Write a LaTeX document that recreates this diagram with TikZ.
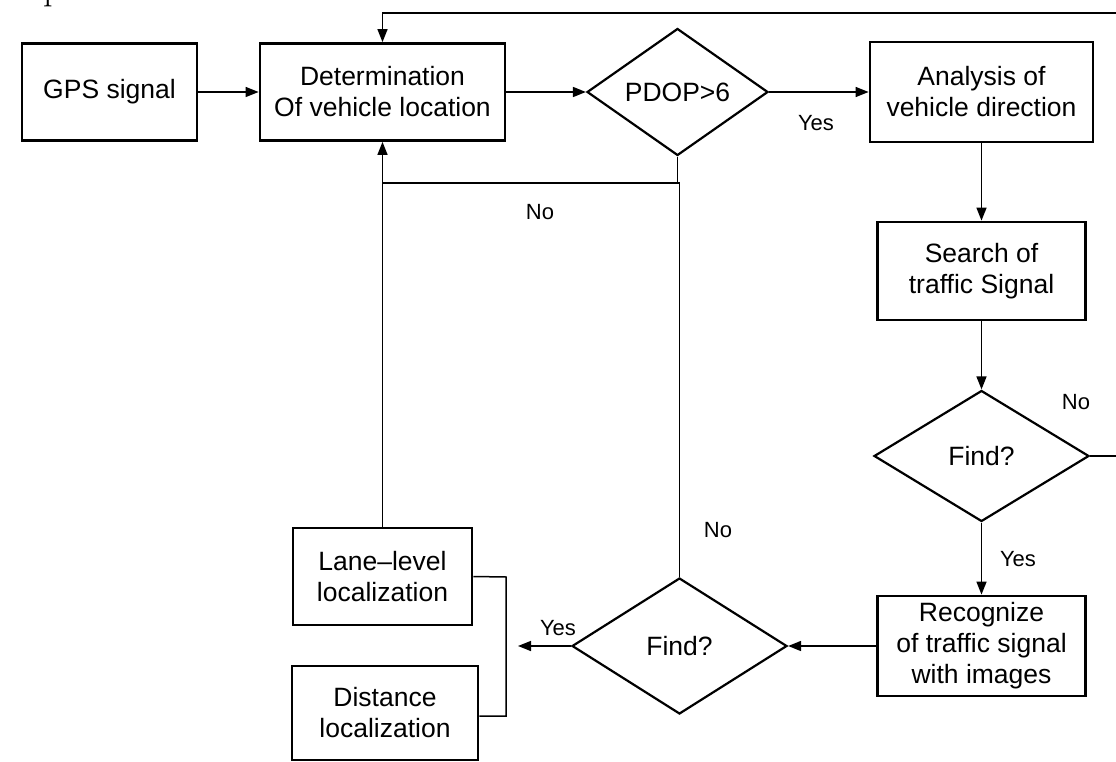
\documentclass[tikz,border=0pt]{standalone}
\usepackage{fontspec}
\newfontfamily\lib{Liberation Sans}
\usetikzlibrary{shapes.geometric,arrows.meta}
\tikzset{
  boxnode/.style={draw, line width=2.8pt, rectangle, inner sep=0pt, align=center,
    font=\lib\fontsize{26.5}{31}\selectfont},
  decnode/.style={draw, line width=2.2pt, diamond, inner sep=0pt, align=center,
    font=\lib\fontsize{26.5}{31}\selectfont},
  conn/.style={line width=1.5pt},
  arr/.style={conn, -{Triangle[length=13pt,width=10pt]}},
  lbl/.style={font=\lib\fontsize{22}{25}\selectfont, inner sep=0pt}
}
\begin{document}
\begin{tikzpicture}[x=1pt,y=-1pt]
\useasboundingbox (0,0) rectangle (1116,762);
\clip (0,0) rectangle (1116,762);
\node[anchor=base west, inner sep=0pt, font=\fontsize{38}{40}\selectfont] (cap) at (43,0) {p};
% nodes
\node[boxnode, minimum width=175pt, minimum height=97pt] (gps) at (109.5,92) {GPS signal};
\node[boxnode, minimum width=245pt, minimum height=97pt] (det) at (382.5,92) {Determination\\Of vehicle location};
\node[decnode, minimum width=181pt, minimum height=127pt] (pdop) at (677.5,92) {PDOP>6};
\node[boxnode, minimum width=223pt, minimum height=100pt] (ana) at (981.5,92) {Analysis of\\vehicle direction};
\node[boxnode, minimum width=208pt, minimum height=98pt] (srch) at (981.5,271) {Search of\\traffic Signal};
\node[decnode, minimum width=215pt, minimum height=131pt] (find1) at (981.5,456) {Find?};
\node[boxnode, minimum width=208pt, minimum height=100pt] (rec) at (981.5,646) {Recognize\\of traffic signal\\with images};
\node[decnode, minimum width=215pt, minimum height=136pt] (find2) at (679.5,646) {Find?};
\node[boxnode, minimum width=179pt, minimum height=97pt] (lane) at (382.5,576.5) {Lane–level\\localization};
\node[boxnode, minimum width=186pt, minimum height=94pt] (dist) at (385,713) {Distance\\localization};
% coordinates
\coordinate (topR) at (1120,13);
\coordinate (find1R) at (1120,456);
\coordinate (noJ) at (678,183);
\coordinate (yesEnd) at (518,646);
\coordinate (brk) at (506,577);
% connectors
\draw[arr] (gps.east) -- (det.west);
\draw[arr] (det.east) -- (pdop.west);
\draw[arr] (pdop.east) -- (ana.west);
\draw[arr] (topR) -- (topR -| det.north) -- (det.north);
\draw[conn] (find1.east) -- (find1R);
\draw[arr] (ana.south) -- (srch.north);
\draw[arr] (srch.south) -- (find1.north);
\draw[arr] (find1.south) -- (rec.north);
\draw[arr] (rec.west) -- (find2.east);
\draw[arr] (find2.west) -- (yesEnd);
\draw[conn] (find2.north) -- (find2.north |- noJ) -- (noJ -| det.south);
\draw[conn] (pdop.south) -- (pdop.south |- noJ);
\draw[arr] (lane.north) -- (det.south);
\draw[conn] (lane.east) -- (brk) -- (brk |- 0,716) -- (dist.east |- 0,716);
% labels
\node[lbl] (l1) at (816,123) {Yes};
\node[lbl] (l2) at (540,212) {No};
\node[lbl] (l3) at (1076,402) {No};
\node[lbl] (l4) at (1018,559) {Yes};
\node[lbl] (l5) at (718,530) {No};
\node[lbl] (l6) at (558,628) {Yes};
\end{tikzpicture}
\end{document}
